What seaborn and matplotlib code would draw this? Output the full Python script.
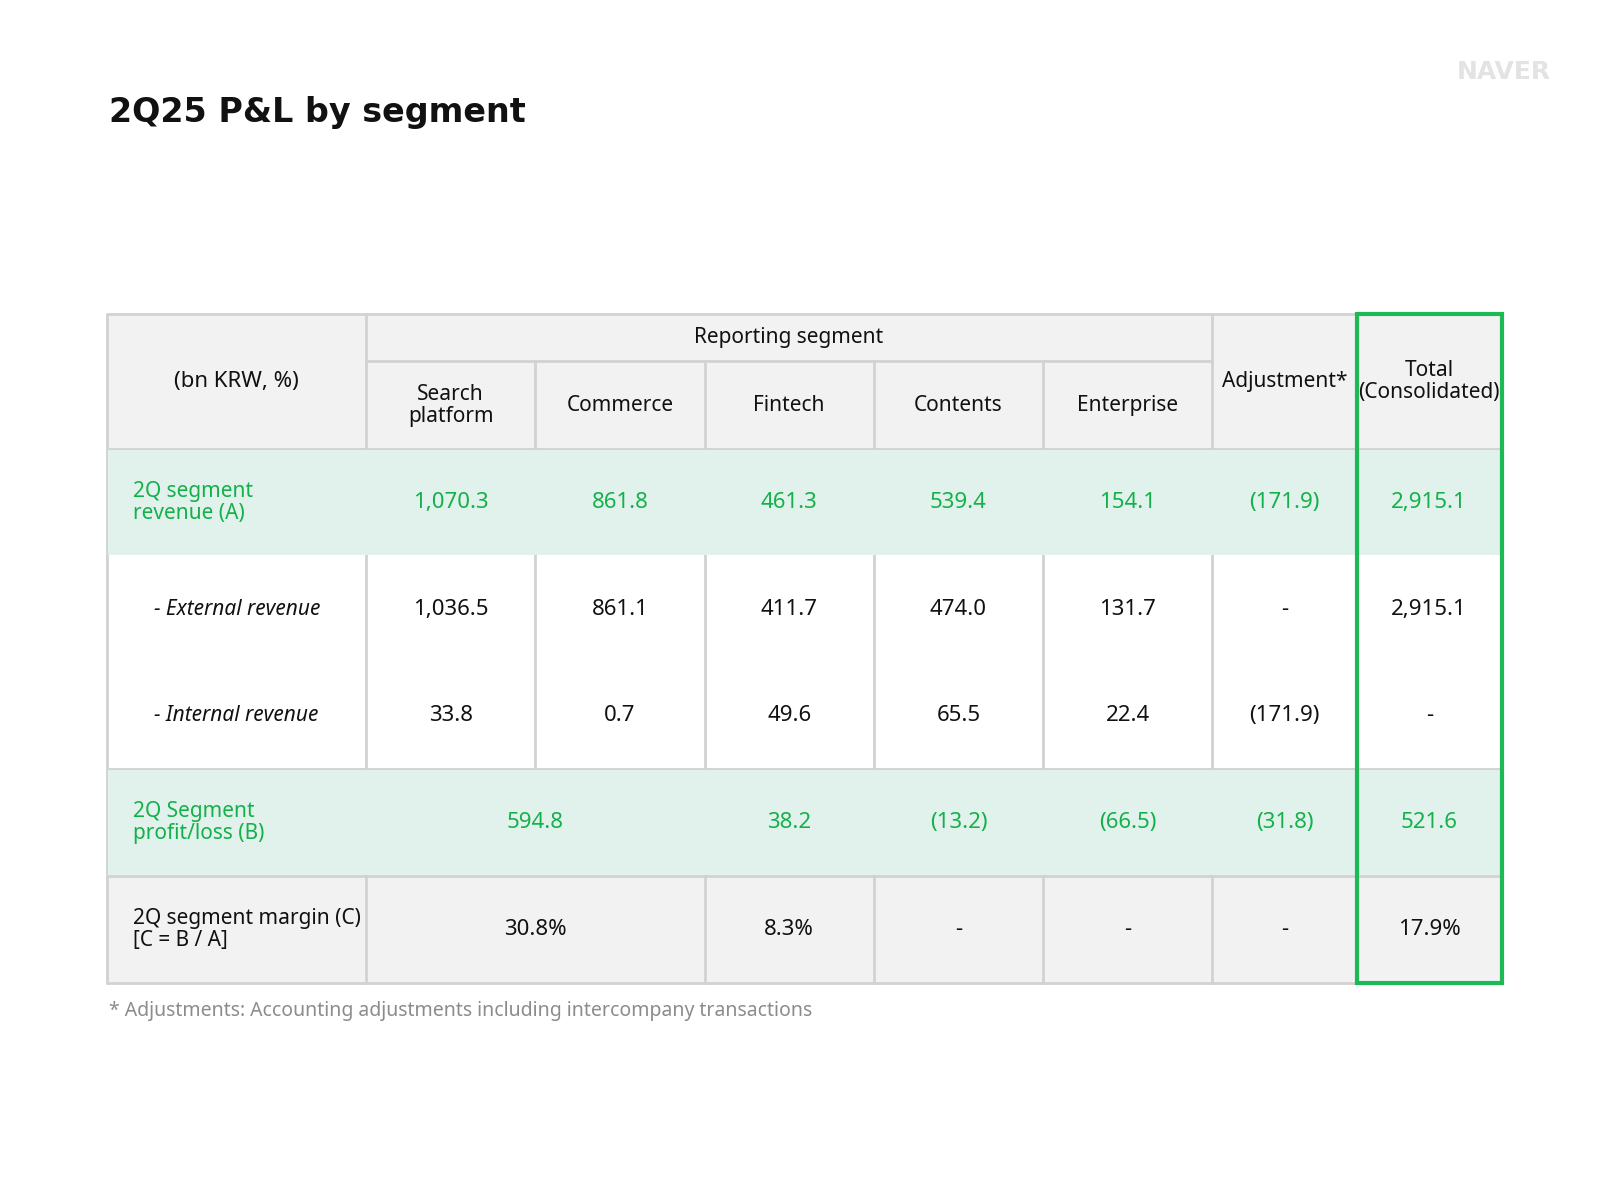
import matplotlib
matplotlib.use("Agg")
import matplotlib.pyplot as plt
from matplotlib.patches import Rectangle
import seaborn as sns

FONT = ["Noto Sans CJK KR", "Noto Sans", "DejaVu Sans"]
sns.set_theme(style="white", rc={"font.family": FONT})

title = "2Q25 P&L by segment"
segments = ["Search\nplatform", "Commerce", "Fintech", "Contents", "Enterprise", "Adjustment*", "Total\n(Consolidated)"]
revenue = ["1,070.3", "861.8", "461.3", "539.4", "154.1", "(171.9)", "2,915.1"]
external = ["1,036.5", "861.1", "411.7", "474.0", "131.7", "-", "2,915.1"]
internal = ["33.8", "0.7", "49.6", "65.5", "22.4", "(171.9)", "-"]
profit = ["594.8", "38.2", "(13.2)", "(66.5)", "(31.8)", "521.6"]   # first merged over Search+Commerce
margin = ["30.8%", "8.3%", "-", "-", "-", "17.9%"]
row_labels = ["2Q segment\nrevenue (A)", "- External revenue", "- Internal revenue",
              "2Q Segment\nprofit/loss (B)", "2Q segment margin (C)\n[C = B / A]"]
footnote = "* Adjustments: Accounting adjustments including intercompany transactions"

W, H = 1560, 1170
fig = plt.figure(figsize=(16, 12), dpi=100)
ax = fig.add_axes([0, 0, 1, 1])
ax.set_xlim(0, W); ax.set_ylim(H, 0); ax.axis("off")

xs = [104, 357, 522, 687, 852, 1017, 1182, 1323, 1464]
ys = [306, 438, 542, 646, 750, 854, 958]
GREEN = "#1db954"; GTXT = "#14b04a"; GBG = "#e1f2ec"; HBG = "#f2f2f2"; LINE = "#d2d2d2"
fs = 15

def rect(x0, y0, x1, y1, fc):
    ax.add_patch(Rectangle((x0, y0), x1 - x0, y1 - y0, fc=fc, ec="none", zorder=0))

rect(xs[0], ys[0], xs[-1], ys[1], HBG)
rect(xs[0], ys[5], xs[-1], ys[6], HBG)

lk = dict(color=LINE, lw=2, zorder=1)
for y in [ys[0], ys[1], ys[4], ys[5], ys[6]]:
    ax.plot([xs[0], xs[-1]], [y, y], **lk)
ax.plot([xs[1], xs[6]], [352, 352], **lk)
for i, x in enumerate(xs):
    if i == 2:
        ax.plot([x, x], [352, ys[4]], **lk)
    elif i in (3, 4, 5):
        ax.plot([x, x], [352, ys[6]], **lk)
    else:
        ax.plot([x, x], [ys[0], ys[6]], **lk)
for (y0, y1) in [(ys[1], ys[2]), (ys[4], ys[5])]:
    ax.add_patch(Rectangle((xs[0] + 1, y0 + 1), xs[-1] - xs[0] - 2, y1 - y0 - 2, fc=GBG, ec="none", zorder=2))
ax.add_patch(Rectangle((xs[7], ys[0]), xs[8] - xs[7], ys[6] - ys[0], fc="none", ec=GREEN, lw=3, zorder=3))

def t(x, y, s, **kw):
    d = dict(ha="center", va="center", fontsize=fs, color="#111111", linespacing=1.05, zorder=4)
    d.update(kw)
    ax.text(x, y, s, **d)

t(230, 372, "(bn KRW, %)", fontsize=16)
t(769, 329, "Reporting segment")
for i, s in enumerate(segments):
    yy = 395 if i < 5 else 372
    t((xs[i + 1] + xs[i + 2]) / 2, yy, s)

cx = [(xs[i + 1] + xs[i + 2]) / 2 for i in range(7)]
for i in range(7):
    t(cx[i], 490, revenue[i], color=GTXT, fontsize=16)
    t(cx[i], 594, external[i], fontsize=16)
    t(cx[i], 698, internal[i], fontsize=16)
pcx = [(xs[1] + xs[3]) / 2] + cx[2:]
for i in range(6):
    t(pcx[i], 802, profit[i], color=GTXT, fontsize=16)
    t(pcx[i], 906, margin[i], fontsize=16)

t(130, 490, row_labels[0], ha="left", color=GTXT)
t(150, 594, row_labels[1], ha="left", style="italic", fontfamily="Noto Sans")
t(150, 698, row_labels[2], ha="left", style="italic", fontfamily="Noto Sans")
t(130, 802, row_labels[3], ha="left", color=GTXT)
t(130, 906, row_labels[4], ha="left")

t(106, 110, title, ha="left", fontsize=24, fontweight="bold", fontfamily="DejaVu Sans")
t(1512, 70, "NAVER", ha="right", fontsize=18, fontweight="bold", fontfamily="DejaVu Sans", color="#e3e3e3")
t(106, 986, footnote, ha="left", fontsize=14, color="#8c8c8c")

fig.savefig("out.png", dpi=100, facecolor="white")
